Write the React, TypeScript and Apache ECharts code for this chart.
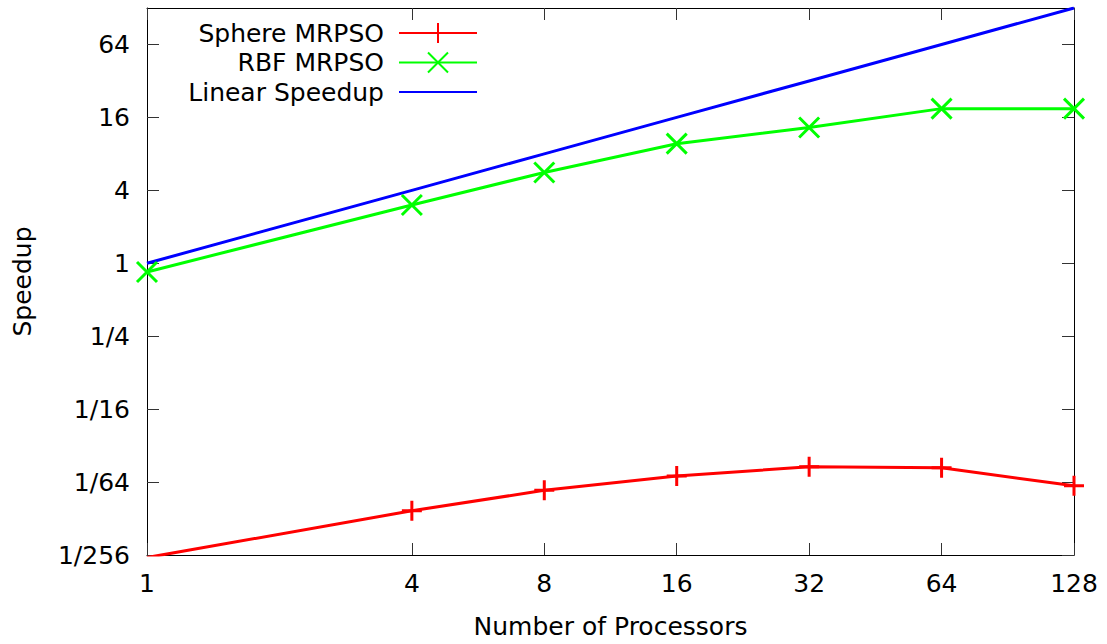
import React, { useEffect, useRef } from 'react';
import * as echarts from 'echarts';

// Data
const processors = [1, 4, 8, 16, 32, 64, 128];
const sphereSpeedup = [0.00372, 0.00905, 0.01335, 0.01755, 0.0209, 0.0205, 0.01455];
const rbfSpeedup = [0.848, 3.03, 5.62, 9.71, 13.2, 18.9, 18.9];
const linearSpeedup = [1, 4, 8, 16, 32, 64, 128];

const xTickValues = [1, 4, 8, 16, 32, 64, 128];
const yTickValues = [1 / 256, 1 / 64, 1 / 16, 1 / 4, 1, 4, 16, 64];

const seriesNames = ['Sphere MRPSO', 'RBF MRPSO', 'Linear Speedup'];

const FONT = 'DejaVu Sans';
const FS = 25;
const PLUS = 'path://M10,0 L10,20 M0,10 L20,10';
const CROSS = 'path://M0,0 L20,20 M20,0 L0,20';

function fmtY(v: number): string {
  const e = Math.round(Math.log2(v));
  return e >= 0 ? String(Math.pow(2, e)) : '1/' + Math.pow(2, -e);
}
function fmtX(v: number): string {
  return String(Math.round(v));
}

const tickStyle = { color: '#333', width: 1 };
const lineAxis = { show: true, lineStyle: { color: '#000', width: 1 } };

export default function App() {
  const ref = useRef<HTMLDivElement>(null);
  useEffect(() => {
    const chart = echarts.init(ref.current!, null, { renderer: 'svg' });
    const pairs = (ys: number[]) => processors.map((x, i) => [x, ys[i]]);
    const xBase = {
      type: 'log',
      logBase: 2,
      min: 1,
      max: 128,
      splitLine: { show: false },
      axisLine: lineAxis,
      axisTick: { show: true, inside: true, length: 12, customValues: xTickValues, lineStyle: tickStyle },
    };
    const yBase = {
      type: 'log',
      logBase: 2,
      min: 1 / 256,
      max: 128,
      splitLine: { show: false },
      axisLine: lineAxis,
      axisTick: { show: true, inside: true, length: 12, customValues: yTickValues, lineStyle: tickStyle },
    };
    const legendCommon = {
      orient: 'vertical',
      right: 629,
      padding: 0,
      align: 'right',
      itemWidth: 78,
      itemHeight: 25,
      textStyle: { fontFamily: FONT, fontSize: FS, color: '#000', padding: [0, 10, 0, 0] },
      selectedMode: false,
    };
    chart.setOption({
      animation: false,
      backgroundColor: '#fff',
      textStyle: { fontFamily: FONT },
      grid: { left: 147, right: 33, top: 8, bottom: 86, containLabel: false },
      legend: [
        { ...legendCommon, top: 20.5, data: [seriesNames[0]] },
        { ...legendCommon, top: 50, data: [seriesNames[1]] },
        { ...legendCommon, top: 79.5, data: [{ name: seriesNames[2], itemStyle: { opacity: 0 } }] },
      ],
      xAxis: [
        {
          ...xBase,
          position: 'bottom',
          axisLabel: {
            customValues: xTickValues,
            formatter: fmtX,
            margin: 16,
            fontFamily: FONT,
            fontSize: FS,
            color: '#000',
          },
          name: 'Number of Processors',
          nameLocation: 'middle',
          nameGap: 59,
          nameTextStyle: { fontFamily: FONT, fontSize: FS, color: '#000' },
        },
        { ...xBase, position: 'top', axisLabel: { show: false } },
      ],
      yAxis: [
        {
          ...yBase,
          position: 'left',
          axisLabel: {
            customValues: yTickValues,
            formatter: fmtY,
            margin: 17,
            fontFamily: FONT,
            fontSize: FS,
            color: '#000',
          },
          name: 'Speedup',
          nameLocation: 'middle',
          nameRotate: 90,
          nameGap: 112,
          nameTextStyle: { fontFamily: FONT, fontSize: FS, color: '#000' },
        },
        { ...yBase, position: 'right', axisLabel: { show: false } },
      ],
      series: [
        {
          name: seriesNames[0],
          type: 'line',
          data: pairs(sphereSpeedup),
          symbol: PLUS,
          symbolSize: 20,
          showAllSymbol: true,
          clip: true,
          lineStyle: { color: '#ff0000', width: 3 },
          itemStyle: { color: '#ff0000', borderColor: '#ff0000', borderWidth: 3 },
        },
        {
          name: seriesNames[1],
          type: 'line',
          data: pairs(rbfSpeedup),
          symbol: CROSS,
          symbolSize: 20,
          showAllSymbol: true,
          clip: true,
          lineStyle: { color: '#00ff00', width: 3 },
          itemStyle: { color: '#00ff00', borderColor: '#00ff00', borderWidth: 3 },
        },
        {
          name: seriesNames[2],
          type: 'line',
          data: pairs(linearSpeedup),
          symbol: 'none',
          clip: true,
          lineStyle: { color: '#0000ff', width: 3 },
          itemStyle: { color: '#0000ff' },
        },
      ],
    });
    return () => chart.dispose();
  }, []);
  return (
    <div
      ref={ref}
      style={{ position: 'fixed', left: 0, top: 0, width: 1107, height: 644 }}
    />
  );
}
